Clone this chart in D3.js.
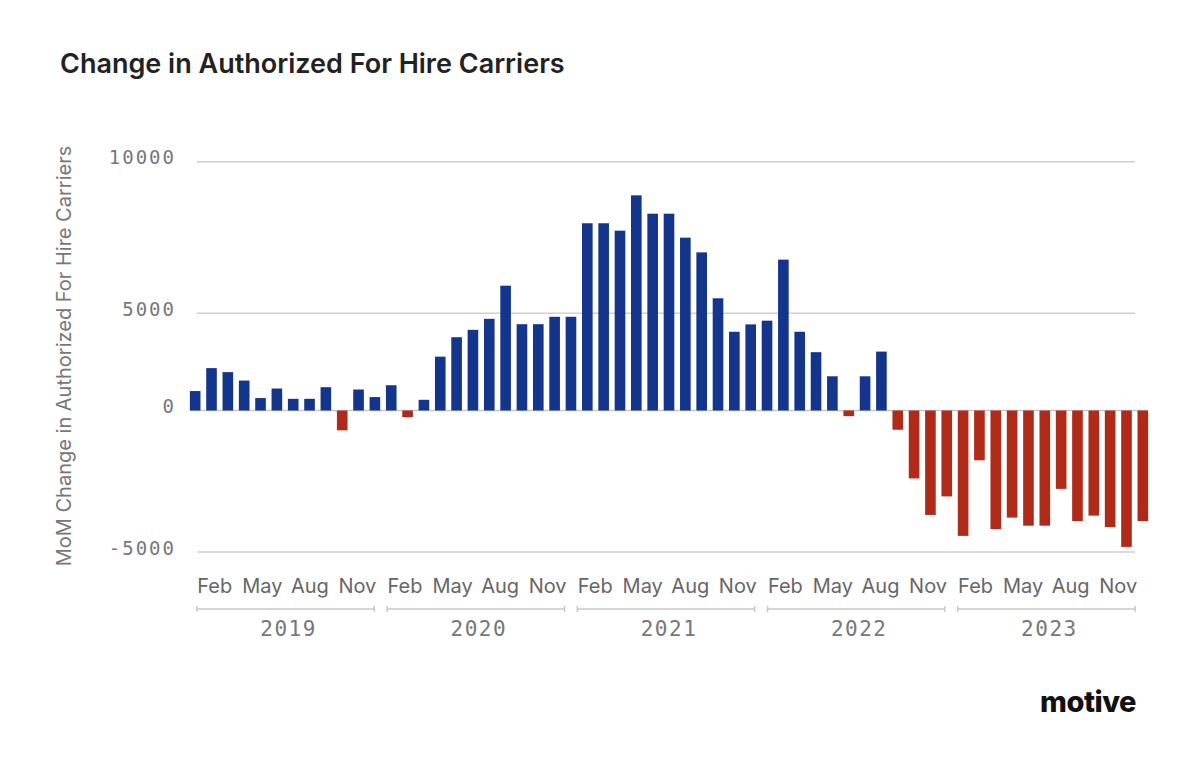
<!DOCTYPE html>
<html>
<head>
<meta charset="utf-8">
<script src="https://cdn.jsdelivr.net/npm/d3@7"></script>
<style>
  html, body { margin: 0; padding: 0; background: #fff; }
  svg text { font-family: Inter, "Noto Sans", sans-serif; }
</style>
</head>
<body>
<div id="chart"></div>
<script>
// month-on-month change, Feb 2019 .. Dec 2023
const years = [2019, 2020, 2021, 2022, 2023]
const monthNames = ['Jan', 'Feb', 'Mar', 'Apr', 'May', 'Jun', 'Jul', 'Aug', 'Sep', 'Oct', 'Nov', 'Dec']
const shownMonths = ['Feb', 'May', 'Aug', 'Nov']
const firstMonth = '2019-02'
const values = [
  1000, 2180, 1975, 1540, 640, 1130, 600, 600, 1200, -700, 1080,      // 2019
  690, 1300, -235, 550, 2770, 3770, 4150, 4715, 5910, 4440, 4440, 4820, // 2020
  4820, 7970, 7970, 7725, 8890, 8285, 8285, 7495, 7010, 5495, 4050, 4430, // 2021
  4620, 6770, 4050, 3000, 1760, -200, 1760, 3030, -680, -2400, -3690, -3035, // 2022
  -4430, -1760, -4190, -3785, -4070, -4070, -2770, -3905, -3715, -4120, -4820, -3905 // 2023
]
const yTicks = [-5000, 0, 5000, 10000]

const width = 1200
const height = 761
const blue = '#14358c'
const red = '#b02a1a'

// all months on the axis
const allMonths = []
years.forEach(y => monthNames.forEach((m, i) => allMonths.push({ key: y + '-' + d3.format('02')(i + 1), year: y, name: m })))
const start = allMonths.findIndex(d => d.key === firstMonth)
const data = values.map((v, i) => ({ key: allMonths[start + i].key, value: v }))

const svg = d3.select('#chart')
  .append('svg')
  .attr('width', width)
  .attr('height', height)

// bars scale
const xb = d3.scaleBand()
  .domain(data.map(d => d.key))
  .range([187, 1151])
  .paddingInner(0.35)
  .paddingOuter(0.175)

// axis scale (months of the 5 years)
const xm = d3.scaleBand()
  .domain(allMonths.map(d => d.key))
  .range([191, 1142])

// the value axis is not evenly spaced in the original
const y = d3.scaleLinear()
  .domain(yTicks)
  .range([552, 410.5, 313.3, 161.7])

const gx0 = xm(allMonths[0].key) + xm.bandwidth() / 2 - 2
const gx1 = xm(allMonths[allMonths.length - 1].key) + xm.bandwidth() / 2 + 1

// title
svg.append('text')
  .attr('x', 60)
  .attr('y', 73)
  .attr('font-size', 27)
  .attr('font-weight', 600)
  .attr('fill', '#222')
  .text('Change in Authorized For Hire Carriers')

// gridlines
svg.append('g')
  .selectAll('line')
  .data(yTicks.filter(t => t !== 0))
  .enter()
  .append('line')
  .attr('x1', gx0)
  .attr('x2', gx1)
  .attr('y1', d => y(d))
  .attr('y2', d => y(d))
  .attr('stroke', '#d0d0d0')
  .attr('stroke-width', 1.5)

// tick labels
svg.append('g')
  .selectAll('text')
  .data(yTicks)
  .enter()
  .append('text')
  .attr('x', 176)
  .attr('y', d => y(d) - 4)
  .attr('dy', '0.35em')
  .attr('text-anchor', 'end')
  .attr('font-size', 19)
  .attr('letter-spacing', 2)
  .style('font-family', '"DejaVu Sans Mono", monospace')
  .attr('fill', '#777')
  .text(d => d)

// y title
svg.append('text')
  .attr('transform', 'translate(64,356) rotate(-90)')
  .attr('text-anchor', 'middle')
  .attr('dy', '0.35em')
  .attr('font-size', 20)
  .attr('fill', '#777')
  .text('MoM Change in Authorized For Hire Carriers')

// baseline
svg.append('line')
  .attr('x1', xb(data[0].key))
  .attr('x2', xb(data[data.length - 1].key) + xb.bandwidth())
  .attr('y1', y(0))
  .attr('y2', y(0))
  .attr('stroke', '#c8c8c8')
  .attr('stroke-width', 1.5)

// bars
svg.append('g')
  .selectAll('rect')
  .data(data)
  .enter()
  .append('rect')
  .attr('x', d => xb(d.key))
  .attr('width', xb.bandwidth())
  .attr('y', d => Math.min(y(d.value), y(0)))
  .attr('height', d => Math.abs(y(d.value) - y(0)))
  .attr('fill', d => d.value >= 0 ? blue : red)

// month labels
svg.append('g')
  .selectAll('text')
  .data(allMonths.filter(d => shownMonths.includes(d.name)))
  .enter()
  .append('text')
  .attr('x', d => xm(d.key) + xm.bandwidth() / 2)
  .attr('y', 586)
  .attr('dy', '0.35em')
  .attr('text-anchor', 'middle')
  .attr('font-size', 20)
  .attr('fill', '#666')
  .text(d => d.name)

// year brackets
const yearG = svg.append('g')
  .selectAll('g')
  .data(years)
  .enter()
  .append('g')

const bx0 = yr => xm(yr + '-01') + xm.bandwidth() / 2 - 2
const bx1 = yr => xm(yr + '-12') + xm.bandwidth() / 2 + 1

yearG.append('line')
  .attr('x1', bx0)
  .attr('x2', bx1)
  .attr('y1', 609)
  .attr('y2', 609)
  .attr('stroke', '#c8c8c8')
  .attr('stroke-width', 1.5)

yearG.selectAll('.endTick')
  .data(yr => [bx0(yr), bx1(yr)])
  .enter()
  .append('line')
  .classed('endTick', true)
  .attr('x1', d => d)
  .attr('x2', d => d)
  .attr('y1', 606)
  .attr('y2', 612)
  .attr('stroke', '#c8c8c8')
  .attr('stroke-width', 1.5)

yearG.append('text')
  .attr('x', yr => (bx0(yr) + bx1(yr)) / 2 + 3)
  .attr('y', 629)
  .attr('dy', '0.35em')
  .attr('text-anchor', 'middle')
  .attr('font-size', 21)
  .attr('letter-spacing', 1.5)
  .style('font-family', '"DejaVu Sans Mono", monospace')
  .attr('fill', '#777')
  .text(yr => yr)

// logo
svg.append('text')
  .attr('x', 1136)
  .attr('y', 712)
  .attr('text-anchor', 'end')
  .attr('font-size', 29)
  .attr('font-weight', 800)
  .attr('letter-spacing', -0.5)
  .attr('fill', '#111')
  .text('motive')
</script>
</body>
</html>
